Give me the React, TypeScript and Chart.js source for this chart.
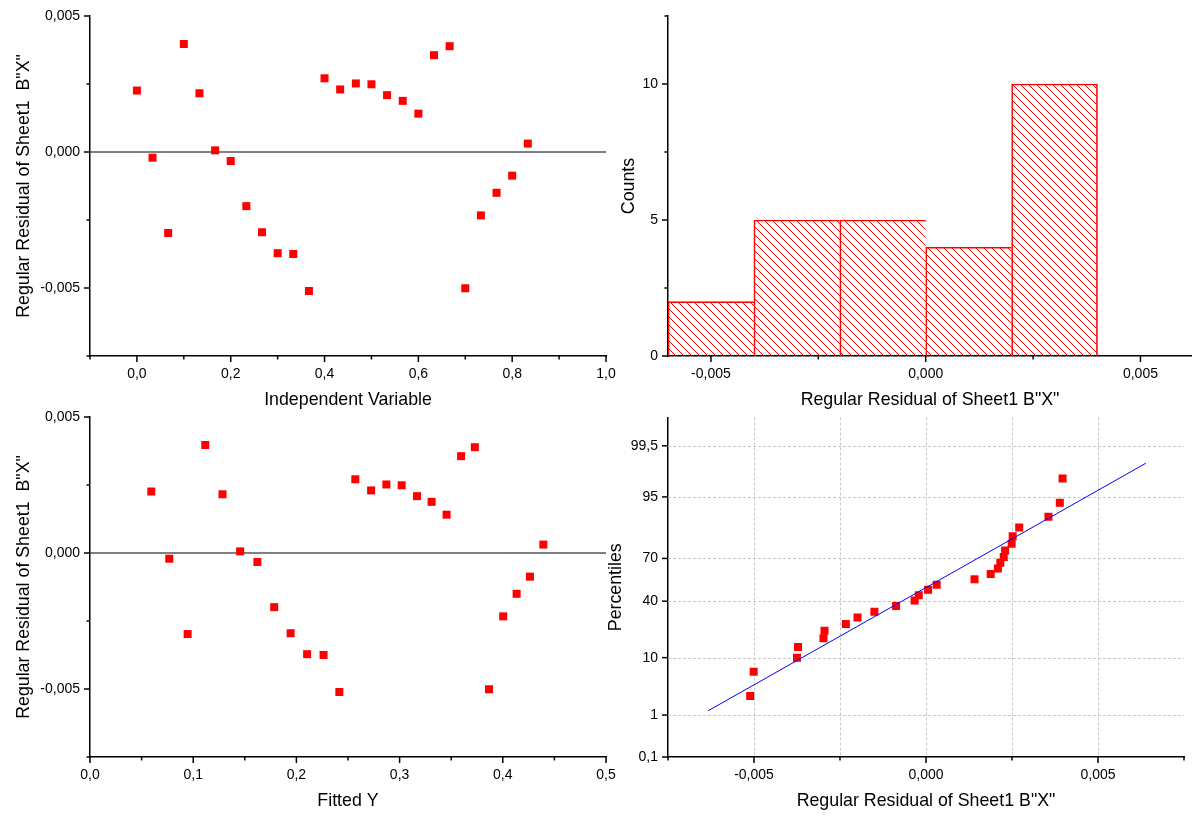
import React, { useEffect, useRef } from 'react';
import { Chart, registerables } from 'chart.js';

Chart.register(...registerables);

// ---------------- Data ----------------
const independentX = [
  0.0, 0.0333, 0.0667, 0.1, 0.1333, 0.1667, 0.2, 0.2333, 0.2667, 0.3, 0.3333, 0.3667, 0.4,
  0.4333, 0.4667, 0.5, 0.5333, 0.5667, 0.6, 0.6333, 0.6667, 0.7, 0.7333, 0.7667, 0.8, 0.8333,
];
const residuals = [
  0.00226, -0.00021, -0.00298, 0.00397, 0.00216, 0.00006, -0.00033, -0.00199, -0.00295,
  -0.00372, -0.00375, -0.00511, 0.00271, 0.0023, 0.00252, 0.00249, 0.00209, 0.00188, 0.00141,
  0.00356, 0.00389, -0.00501, -0.00233, -0.0015, -0.00087, 0.00031,
];
const fittedY = [
  0.0594, 0.0768, 0.0946, 0.1117, 0.1284, 0.1455, 0.1622, 0.1785, 0.1944, 0.2104, 0.2263,
  0.2416, 0.2571, 0.2724, 0.2872, 0.302, 0.3169, 0.331, 0.3455, 0.3596, 0.3729, 0.3866, 0.4004,
  0.4134, 0.4263, 0.4393,
];
const zeroLineX1 = [-0.1, 1.0];
const zeroLineX3 = [0.0, 0.5];
const zeroLineY = [0, 0];

const histBinCenters = [-0.005, -0.003, -0.001, 0.001, 0.003];
const histCounts = [2, 5, 5, 4, 10];

const sortedResiduals = [
  -0.00511, -0.00501, -0.00375, -0.00372, -0.00298, -0.00295, -0.00233, -0.00199, -0.0015,
  -0.00087, -0.00033, -0.00021, 0.00006, 0.00031, 0.00141, 0.00188, 0.00209, 0.00216, 0.00226,
  0.0023, 0.00249, 0.00252, 0.00271, 0.00356, 0.00389, 0.00397,
];
const percentiles = [
  2.38, 6.19, 10.0, 13.81, 17.62, 21.43, 25.24, 29.05, 32.86, 36.67, 40.48, 44.29, 48.1, 51.9,
  55.71, 59.52, 63.33, 67.14, 70.95, 74.76, 78.57, 82.38, 86.19, 90.0, 93.81, 97.62,
];
const fitLineX = [-0.00633, 0.00639];
const fitLineP = [1.23, 98.8];

// ---------------- Ticks ----------------
const p1XTicks = [0, 0.2, 0.4, 0.6, 0.8, 1.0];
const p1XLabels = ['0,0', '0,2', '0,4', '0,6', '0,8', '1,0'];
const p1XMinor = [-0.1, 0.1, 0.3, 0.5, 0.7, 0.9];
const resTicks = [-0.005, 0, 0.005];
const resLabels = ['-0,005', '0,000', '0,005'];
const resMinor = [-0.0075, -0.0025, 0.0025];
const p3XTicks = [0, 0.1, 0.2, 0.3, 0.4, 0.5];
const p3XLabels = ['0,0', '0,1', '0,2', '0,3', '0,4', '0,5'];
const p3XMinor = [0.05, 0.15, 0.25, 0.35, 0.45];
const countTicks = [0, 5, 10];
const countLabels = ['0', '5', '10'];
const countMinor = [2.5, 7.5, 12.5];
const histXMinor = [-0.0025, 0.0025];
const probXMinor = [-0.0075, -0.0025, 0.0025, 0.0075];
const probXGrid = [-0.005, -0.0025, 0, 0.0025, 0.005];
const pctTicks = [0.1, 1, 10, 40, 70, 95, 99.5];
const pctLabels = ['0,1', '1', '10', '40', '70', '95', '99,5'];
const pctGrid = [1, 10, 40, 70, 95, 99.5];
const pctMin = 0.1;
const pctMax = 99.9;

// ---------------- Helpers ----------------
const FONT = "'Liberation Sans', Arial, sans-serif";
const TICK_FONT = 14;
const TITLE_FONT = 17.8;
const RED = '#ff0000';

// inverse standard normal CDF (probability-scale transform)
function normInv(p: number): number {
  const a = [-39.69683028665376, 220.9460984245205, -275.9285104469687, 138.357751867269, -30.66479806614716, 2.506628277459239];
  const b = [-54.47609879822406, 161.5858368580409, -155.6989798598866, 66.80131188771972, -13.28068155288572];
  const c = [-0.007784894002430293, -0.3223964580411365, -2.400758277161838, -2.549732539343734, 4.374664141464968, 2.938163982698783];
  const d = [0.007784695709041462, 0.3224671290700398, 2.445134137142996, 3.754408661907416];
  const pl = 0.02425;
  if (p < pl) {
    const q = Math.sqrt(-2 * Math.log(p));
    return (((((c[0] * q + c[1]) * q + c[2]) * q + c[3]) * q + c[4]) * q + c[5]) / ((((d[0] * q + d[1]) * q + d[2]) * q + d[3]) * q + 1);
  }
  if (p <= 1 - pl) {
    const q = p - 0.5;
    const r = q * q;
    return ((((((a[0] * r + a[1]) * r + a[2]) * r + a[3]) * r + a[4]) * r + a[5]) * q) / (((((b[0] * r + b[1]) * r + b[2]) * r + b[3]) * r + b[4]) * r + 1);
  }
  const q = Math.sqrt(-2 * Math.log(1 - p));
  return -(((((c[0] * q + c[1]) * q + c[2]) * q + c[3]) * q + c[4]) * q + c[5]) / ((((d[0] * q + d[1]) * q + d[2]) * q + d[3]) * q + 1);
}
const pz = (pct: number) => normInv(pct / 100);

function makeScale(o: {
  min: number; max: number; ticks: number[]; labels: string[]; title: string;
  size: number; titlePad: number; isX: boolean;
}) {
  return {
    type: 'linear',
    min: o.min,
    max: o.max,
    offset: false,
    grid: { display: false, drawTicks: false },
    border: { display: true, color: '#000', width: 1.5 },
    afterBuildTicks: (s: any) => {
      s.ticks = o.ticks.map((v) => ({ value: v }));
    },
    afterFit: (s: any) => {
      if (o.isX) s.height = o.size;
      else s.width = o.size;
      s.paddingLeft = 0;
      s.paddingRight = 0;
      s.paddingTop = 0;
      s.paddingBottom = 0;
    },
    ticks: {
      autoSkip: false,
      maxRotation: 0,
      minRotation: 0,
      padding: 10,
      color: '#000',
      font: { family: FONT, size: TICK_FONT },
      callback: (_v: any, i: number) => o.labels[i],
    },
    title: {
      display: true,
      text: o.title,
      color: '#000',
      font: { family: FONT, size: TITLE_FONT },
      padding: o.isX ? { top: 0, bottom: 0 } : { top: o.titlePad, bottom: 0 },
    },
  };
}

function decor(cfg: {
  xMajor: number[]; xMinor: number[]; yMajor: number[]; yMinor: number[];
  xGrid?: number[]; yGrid?: number[];
}) {
  return {
    id: 'decor',
    beforeDatasetsDraw(chart: any) {
      const { ctx, chartArea: a, scales } = chart;
      if (!cfg.xGrid && !cfg.yGrid) return;
      ctx.save();
      ctx.strokeStyle = '#c8c8c8';
      ctx.lineWidth = 1;
      ctx.setLineDash([3, 2]);
      for (const v of cfg.xGrid || []) {
        const px = Math.round(scales.x.getPixelForValue(v)) + 0.5;
        ctx.beginPath();
        ctx.moveTo(px, a.top);
        ctx.lineTo(px, a.bottom);
        ctx.stroke();
      }
      for (const v of cfg.yGrid || []) {
        const py = Math.round(scales.y.getPixelForValue(v)) + 0.5;
        ctx.beginPath();
        ctx.moveTo(a.left, py);
        ctx.lineTo(a.right, py);
        ctx.stroke();
      }
      ctx.restore();
    },
    afterDraw(chart: any) {
      const { ctx, chartArea: a, scales } = chart;
      ctx.save();
      ctx.strokeStyle = '#000';
      ctx.lineWidth = 1.5;
      const xt = (v: number, len: number) => {
        const px = scales.x.getPixelForValue(v);
        ctx.beginPath();
        ctx.moveTo(px, a.bottom);
        ctx.lineTo(px, a.bottom + len);
        ctx.stroke();
      };
      const yt = (v: number, len: number) => {
        const py = scales.y.getPixelForValue(v);
        ctx.beginPath();
        ctx.moveTo(a.left, py);
        ctx.lineTo(a.left - len, py);
        ctx.stroke();
      };
      cfg.xMajor.forEach((v) => xt(v, 6));
      cfg.xMinor.forEach((v) => xt(v, 3.5));
      cfg.yMajor.forEach((v) => yt(v, 6));
      cfg.yMinor.forEach((v) => yt(v, 3.5));
      ctx.restore();
    },
  };
}

const baseOptions = (padding: any) => ({
  responsive: false,
  maintainAspectRatio: false,
  animation: false,
  devicePixelRatio: 1,
  events: [],
  layout: { padding },
  plugins: { legend: { display: false }, tooltip: { enabled: false } },
});

const pointStyle = {
  pointStyle: 'rect',
  pointRadius: 5.66,
  pointBackgroundColor: RED,
  pointBorderWidth: 0,
  showLine: false,
};

function makeHatch(): CanvasPattern | string {
  const c = document.createElement('canvas');
  c.width = 8;
  c.height = 8;
  const g = c.getContext('2d');
  if (!g) return 'rgba(255,0,0,0.2)';
  g.strokeStyle = RED;
  g.lineWidth = 1;
  for (const o of [-8, 0, 8]) {
    g.beginPath();
    g.moveTo(o, 0);
    g.lineTo(o + 8, 8);
    g.stroke();
  }
  const ctx = document.createElement('canvas').getContext('2d');
  return (ctx && ctx.createPattern(c, 'repeat')) || 'rgba(255,0,0,0.2)';
}

// ---------------- Chart configs ----------------
function panel1(): any {
  return {
    type: 'scatter',
    data: {
      datasets: [
        { data: independentX.map((x, i) => ({ x, y: residuals[i] })), ...pointStyle },
        {
          data: zeroLineX1.map((x, i) => ({ x, y: zeroLineY[i] })),
          showLine: true, borderColor: '#000', borderWidth: 1, pointRadius: 0,
        },
      ],
    },
    options: {
      ...baseOptions({ left: 0, top: 16, right: 586, bottom: 410.2 }),
      scales: {
        x: makeScale({ min: -0.1, max: 1.0, ticks: p1XTicks, labels: p1XLabels, title: 'Independent Variable', size: 54.8, titlePad: 0, isX: true }),
        y: makeScale({ min: -0.0075, max: 0.005, ticks: resTicks, labels: resLabels, title: 'Regular Residual of Sheet1  B"X"', size: 90, titlePad: 13.3, isX: false }),
      },
    },
    plugins: [decor({ xMajor: p1XTicks, xMinor: p1XMinor, yMajor: resTicks, yMinor: resMinor })],
  };
}

function panel2(): any {
  const last = histCounts.length - 1;
  return {
    type: 'bar',
    data: {
      datasets: [
        {
          data: histBinCenters.map((x, i) => ({ x, y: histCounts[i] })),
          backgroundColor: makeHatch(),
          borderColor: RED,
          borderWidth: (c: any) => ({ top: 1, left: 1, bottom: 0, right: c.dataIndex === last ? 1 : 0 }),
          borderSkipped: false,
          barPercentage: 1,
          categoryPercentage: 1,
        },
      ],
    },
    options: {
      ...baseOptions({ left: 600, top: 16, right: 0, bottom: 410.2 }),
      scales: {
        x: makeScale({ min: -0.006, max: 0.0062, ticks: resTicks, labels: resLabels, title: 'Regular Residual of Sheet1 B"X"', size: 54.8, titlePad: 0, isX: true }),
        y: makeScale({ min: 0, max: 12.5, ticks: countTicks, labels: countLabels, title: 'Counts', size: 68, titlePad: 18, isX: false }),
      },
    },
    plugins: [decor({ xMajor: resTicks, xMinor: histXMinor, yMajor: countTicks, yMinor: countMinor })],
  };
}

function panel3(): any {
  return {
    type: 'scatter',
    data: {
      datasets: [
        { data: fittedY.map((x, i) => ({ x, y: residuals[i] })), ...pointStyle },
        {
          data: zeroLineX3.map((x, i) => ({ x, y: zeroLineY[i] })),
          showLine: true, borderColor: '#000', borderWidth: 1, pointRadius: 0,
        },
      ],
    },
    options: {
      ...baseOptions({ left: 0, top: 417, right: 586, bottom: 9.3 }),
      scales: {
        x: makeScale({ min: 0, max: 0.5, ticks: p3XTicks, labels: p3XLabels, title: 'Fitted Y', size: 54.7, titlePad: 0, isX: true }),
        y: makeScale({ min: -0.0075, max: 0.005, ticks: resTicks, labels: resLabels, title: 'Regular Residual of Sheet1  B"X"', size: 90, titlePad: 13.3, isX: false }),
      },
    },
    plugins: [decor({ xMajor: p3XTicks, xMinor: p3XMinor, yMajor: resTicks, yMinor: resMinor })],
  };
}

function panel4(): any {
  const zTicks = pctTicks.map(pz);
  return {
    type: 'scatter',
    data: {
      datasets: [
        {
          data: fitLineX.map((x, i) => ({ x, y: pz(fitLineP[i]) })),
          showLine: true, borderColor: '#0000ff', borderWidth: 1, pointRadius: 0,
        },
        { data: sortedResiduals.map((x, i) => ({ x, y: pz(percentiles[i]) })), ...pointStyle },
      ],
    },
    options: {
      ...baseOptions({ left: 600, top: 417.5, right: 8, bottom: 9.3 }),
      scales: {
        x: makeScale({ min: -0.0075, max: 0.0075, ticks: resTicks, labels: resLabels, title: 'Regular Residual of Sheet1 B"X"', size: 54.7, titlePad: 0, isX: true }),
        y: makeScale({ min: pz(pctMin), max: pz(pctMax), ticks: zTicks, labels: pctLabels, title: 'Percentiles', size: 68, titlePad: 5.3, isX: false }),
      },
    },
    plugins: [
      decor({ xMajor: resTicks, xMinor: probXMinor, yMajor: zTicks, yMinor: [], xGrid: probXGrid, yGrid: pctGrid.map(pz) }),
    ],
  };
}

function ChartCanvas({ make }: { make: () => any }) {
  const ref = useRef<HTMLCanvasElement>(null);
  useEffect(() => {
    if (!ref.current) return;
    const chart = new Chart(ref.current, make());
    return () => chart.destroy();
  }, []);
  return (
    <canvas
      ref={ref}
      width={1192}
      height={821}
      style={{ position: 'absolute', left: 0, top: 0, width: 1192, height: 821 }}
    />
  );
}

export default function App() {
  return (
    <div style={{ position: 'absolute', left: 0, top: 0, width: 1192, height: 821, background: '#fff', overflow: 'hidden' }}>
      <ChartCanvas make={panel1} />
      <ChartCanvas make={panel2} />
      <ChartCanvas make={panel3} />
      <ChartCanvas make={panel4} />
    </div>
  );
}
